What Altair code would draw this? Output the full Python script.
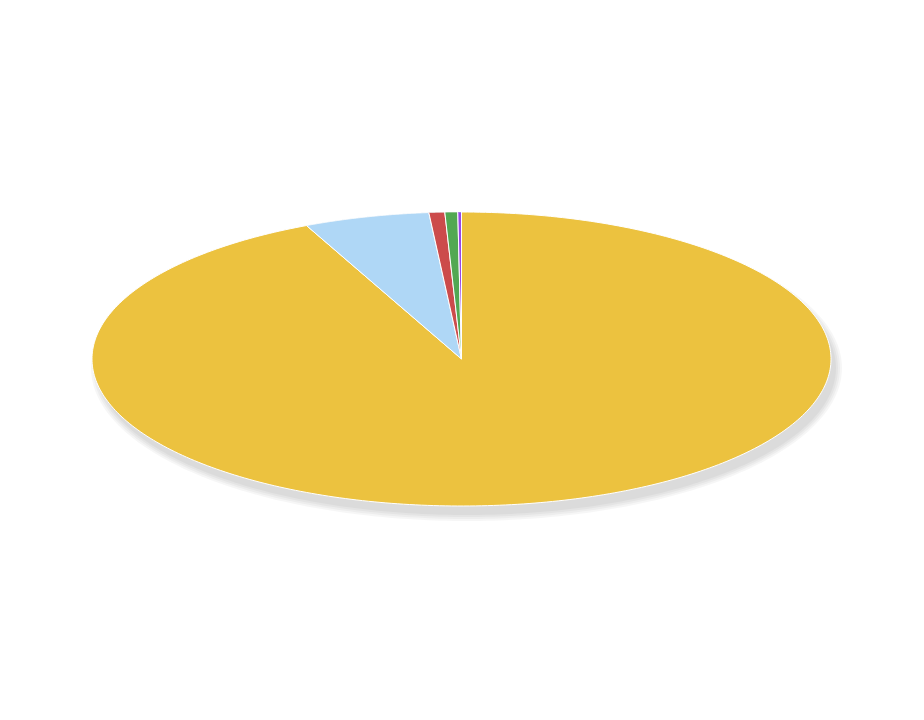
import altair as alt
import pandas as pd

# ---- data (shares, percent) ----
categories = ["Category A", "Category B", "Category C", "Category D", "Category E"]
values = [93.11, 5.48, 0.69, 0.56, 0.16]
colors = ["#ECC23F", "#AFD7F6", "#CC4B4B", "#52A852", "#9747E8"]

df = pd.DataFrame({"category": categories, "value": values, "k": list(range(len(values)))})

# shadow blur levels (pixels of expansion)
shadow_levels = [0, 2, 4, 6]
df_sh = pd.DataFrame({"level": shadow_levels})

W, H = 924, 720
CX, CY, RX, RY = 461.5, 359.0, 369.5, 147.0
xdom = [-CX / RX, (W - CX) / RX]
ydom = [-(H - CY) / RY, CY / RY]
N = 360

xs = alt.Scale(domain=xdom, range=[0, W], nice=False, zero=False)
ys = alt.Scale(domain=ydom, range=[H, 0], nice=False, zero=False)

SDX, SDY = 5.0, 9.0

shadow = alt.Chart(df_sh).transform_calculate(
    steps=f"sequence(0,{N + 1})"
).transform_flatten(["steps"], as_=["i"]).transform_calculate(
    ang=f"2*PI*datum.i/{N}",
    x=f"{SDX / RX} + sin(datum.ang)*(1 + datum.level/{RX})",
    y=f"{-SDY / RY} + cos(datum.ang)*(1 + datum.level/{RY})",
).mark_line(
    filled=True, fill="#000000", fillOpacity=0.035, strokeWidth=0, interpolate="linear"
).encode(
    x=alt.X("x:Q", scale=xs, axis=None),
    y=alt.Y("y:Q", scale=ys, axis=None),
    order=alt.Order("i:Q"),
    detail="level:N",
)

pie = alt.Chart(df).transform_window(
    cum="sum(value)", sort=[alt.SortField("k")], frame=[None, 0]
).transform_joinaggregate(
    total="sum(value)"
).transform_calculate(
    a0="2*PI*(datum.cum-datum.value)/datum.total",
    a1="2*PI*datum.cum/datum.total",
    steps=f"sequence(-1,{N + 2})",
).transform_flatten(["steps"], as_=["i"]).transform_calculate(
    ang=f"datum.a0 + (datum.a1-datum.a0)*clamp(datum.i,0,{N})/{N}",
    x=f"(datum.i<0 || datum.i>{N}) ? 0 : sin(datum.ang)",
    y=f"(datum.i<0 || datum.i>{N}) ? 0 : cos(datum.ang)",
).mark_line(
    filled=True, stroke="white", strokeWidth=1, strokeJoin="round", interpolate="linear"
).encode(
    x=alt.X("x:Q", scale=xs, axis=None),
    y=alt.Y("y:Q", scale=ys, axis=None),
    order=alt.Order("i:Q"),
    fill=alt.Fill("category:N", scale=alt.Scale(domain=categories, range=colors), legend=None),
    detail="category:N",
)

chart = alt.layer(shadow, pie).properties(
    width=W, height=H, autosize=alt.AutoSizeParams(type="none"), padding=0,
    background="white",
).configure_view(stroke=None)

chart.save("out.html", embed_options={"renderer": "svg", "actions": False})
